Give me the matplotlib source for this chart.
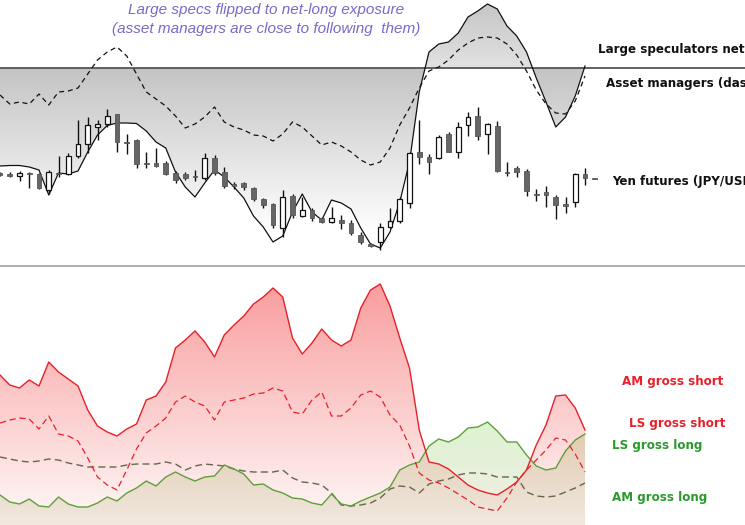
import numpy as np
import matplotlib
matplotlib.use("Agg")
import matplotlib.pyplot as plt
from matplotlib.path import Path
from matplotlib.patches import PathPatch
from matplotlib.lines import Line2D
from matplotlib.colors import LinearSegmentedColormap

# weekly yen futures candles (scaled price index)
yen_open = [91.5, 90.5, 89, 92.2, 91, 75, 92.2, 90.7, 109.3, 120.7, 138.3, 140.7, 150.7, 123.2, 125, 102.2,
            101.7, 101.7, 92.3, 90.7, 88.8, 87.3, 107.3, 93.3, 80.5, 81.7, 76.7, 66, 60.7, 37.3, 69.3, 49.3,
            55, 47.3, 42.7, 45, 41.7, 30, 20.5, 23.3, 38.3, 44, 61.7, 113.3, 108.3, 107.3, 130.7, 113.3,
            140, 149.3, 130.7, 139.3, 93.2, 96.7, 94, 71.2, 73.3, 68.3, 60.5, 63.3, 91, 87.2]
yen_close = [90.5, 89.5, 92.3, 91.2, 77, 93.3, 91.2, 109, 120.7, 140, 141, 149.3, 123.3, 122.2, 100.7, 101.2,
             99.3, 90.7, 85, 86.7, 87.8, 107.3, 91.7, 79.3, 79.5, 78.3, 66, 60, 40, 68.3, 50, 55,
             46.7, 42.7, 46.7, 41.7, 31.7, 22.7, 19.5, 38.3, 44, 66, 111.7, 108.3, 103.3, 128.3, 113.3, 138.3,
             148.3, 129.3, 141, 94, 92.2, 92.7, 74, 70.2, 70, 60, 59.5, 91, 87.3, 86.2]
yen_high = [93, 93.3, 94, 93, 92, 95, 109, 112, 145, 148.3, 145, 156, 151, 130.7, 126, 113,
            116.7, 104, 94, 92.7, 95, 111.7, 110, 98.3, 83.3, 83.3, 78, 67, 62, 75, 71, 68.3,
            57.3, 48.3, 58.3, 50, 45, 32.7, 22, 42, 57.3, 68.3, 113, 145, 110.7, 130, 132.7, 143.3,
            153.3, 157.7, 142, 144, 103.3, 99.3, 96, 76, 79.3, 70, 68.3, 92, 97.3, 87.2]
yen_low = [89, 87.7, 84.3, 77, 76.5, 71, 88, 90, 107, 111.7, 125, 138.3, 113.3, 110.7, 97.3, 97.3,
           98.3, 90, 81.7, 85, 84, 85, 90, 76.7, 76, 75, 64, 57.3, 36.7, 28.3, 47.3, 48.3,
           44, 41.7, 41.7, 36, 30, 20.7, 18, 15, 36.7, 41.7, 57, 100.7, 90.7, 106, 112.7, 106.7,
           129.3, 125, 110.7, 92.7, 89.3, 88.3, 69.3, 64, 58.3, 46, 51.7, 58.3, 80, 86.2]

# net positioning, thousands of contracts
ls_net = [-98, -97.5, -97.5, -99, -102, -127, -105, -106, -103, -84, -67, -57.5, -55, -55, -55.5, -63,
          -74, -80, -104, -119, -129, -115, -102, -109, -119, -130, -148, -159, -174, -168, -144, -126,
          -144, -152, -132, -135, -141, -160, -176, -180, -164, -134, -94, -24, 16, 24, 26, 35, 51, 57,
          64, 59, 42, 32, 16, -10, -34, -59, -49, -28, 2]
am_net = [-27, -36, -34, -36, -26, -37, -24, -23, -20, -6, 8, 16, 21, 12, -6, -24, -31, -38, -48, -60,
          -56, -49, -39, -54, -59, -62, -67, -68, -73, -66, -54, -59, -68, -77, -74, -78, -84, -92, -97,
          -94, -80, -57, -40, -20, -3, 1, 8, 18, 25, 30, 31, 30, 24, 13, -3, -22, -36, -45, -46, -33, -8]

# gross positions, thousands of contracts
am_short = [150, 140, 137, 145, 139, 163, 153, 146, 139, 115, 99, 93, 89, 96, 101, 125, 129, 143, 177, 185,
            194, 183, 168, 190, 200, 209, 221, 228, 237, 228, 187, 171, 182, 196, 185, 179, 185, 217, 235,
            241, 219, 187, 157, 95, 63, 61, 56, 48, 40, 35, 32, 30, 36, 43, 55, 80, 100, 129, 130, 117, 95]
ls_short = [102, 105, 107, 106, 96, 109, 91, 89, 84, 67, 48, 40, 35, 55, 76, 92, 99, 107, 123, 129, 123,
            119, 105, 123, 125, 127, 131, 132, 137, 134, 113, 111, 125, 133, 109, 109, 117, 130, 134, 128,
            110, 100, 79, 52, 45, 42, 37, 31, 25, 18, 16, 14, 27, 43, 55, 65, 75, 87, 85, 71, 53]
ls_long = [30, 23, 21, 26, 19, 18, 28, 21, 18, 18, 22, 28, 24, 32, 37, 44, 39, 48, 53, 48, 44, 48, 49, 60,
           56, 51, 40, 41, 35, 32, 27, 26, 22, 20, 31, 21, 19, 24, 28, 32, 38, 55, 60, 63, 79, 86, 83, 88,
           97, 98, 103, 94, 83, 83, 70, 59, 55, 57, 74, 85, 91]
am_long = [68, 66, 64, 63, 64, 66, 65, 62, 60, 58, 58, 58, 58, 60, 61, 61, 61, 63, 61, 55, 59, 61, 60, 59,
           56, 54, 53, 53, 53, 55, 47, 43, 42, 40, 32, 20, 19, 20, 22, 27, 36, 39, 38, 32, 41, 44, 46, 50,
           52, 52, 51, 48, 48, 48, 33, 29, 28, 29, 33, 37, 42]

W, H = 745, 525
fig = plt.figure(figsize=(W / 100, H / 100), dpi=100)
ax1 = fig.add_axes([0, 1 - 265 / H, 1, 265 / H])
ax2 = fig.add_axes([0, 0, 1, 259 / H])
XMAX = W / 9.75


def gradient_fill(ax, coll, y0, y1, c0, c1, z):
    # imshow gradient clipped to the fill_between polygon
    path = Path.make_compound_path(*coll.get_paths())
    coll.remove()
    patch = PathPatch(path, transform=ax.transData, facecolor="none", edgecolor="none")
    ax.add_patch(patch)
    cmap = LinearSegmentedColormap.from_list("g", [c0, c1])
    grad = np.linspace(0, 1, 256).reshape(-1, 1)
    im = ax.imshow(grad, cmap=cmap, extent=[0, XMAX, y0, y1], origin="lower",
                   aspect="auto", zorder=z, interpolation="bilinear")
    im.set_clip_path(patch)


# ---- top panel: net positioning + yen candles
wk = np.arange(len(ls_net))
ls = np.array(ls_net, float)
c = ax1.fill_between(wk, ls, 0, where=ls <= 0, interpolate=True)
gradient_fill(ax1, c, -165, 0, "#ffffff", "#c4c4c4", 1)
c = ax1.fill_between(wk, ls, 0, where=ls >= 0, interpolate=True)
gradient_fill(ax1, c, 0, 68, "#e2e2e2", "#c4c4c4", 1)
ax1.axhline(0, color="#555555", lw=1.3, zorder=3)
ax1.plot(wk, ls_net, color="#111111", lw=0.9, zorder=4)
ax1.plot(wk, am_net, color="#111111", lw=0.9, ls=(0, (4, 3)), zorder=4)
ax1.set_xlim(0, XMAX)
ax1.set_ylim(-197, 68)
ax1.axis("off")

axc = ax1.twinx()
cw = np.arange(len(yen_open))
o = np.array(yen_open); cl = np.array(yen_close)
up = cl > o
axc.vlines(cw, yen_low, yen_high, color="#111111", lw=1.0, zorder=5)
bot = np.minimum(o, cl)
hgt = np.maximum(np.abs(cl - o), 1.2)
axc.bar(cw[up], hgt[up], bottom=bot[up], width=0.5, color="white", edgecolor="#111111", lw=0.9, zorder=6)
axc.bar(cw[~up], hgt[~up], bottom=bot[~up], width=0.5, color="#666666", edgecolor="#555555", lw=0.6, zorder=6)
axc.set_xlim(0, XMAX)
axc.set_ylim(0, 265)
axc.axis("off")

# ---- bottom panel: gross positions
wk2 = np.arange(len(am_short))
c = ax2.fill_between(wk2, ls_long, 0)
gradient_fill(ax2, c, 0, 110, "#f2eee6", "#dcf3cf", 1)
c = ax2.fill_between(wk2, am_short, 0)
gradient_fill(ax2, c, 0, 245, (0.95, 0.16, 0.16, 0.03), (0.95, 0.16, 0.16, 0.46), 2)
ax2.plot(wk2, am_long, color="#66664f", lw=1.0, ls=(0, (5, 3)), zorder=4)
ax2.plot(wk2, ls_long, color="#5ea03c", lw=1.0, zorder=4)
ax2.plot(wk2, ls_short, color="#e8202a", lw=0.9, ls=(0, (5, 3)), zorder=5)
ax2.plot(wk2, am_short, color="#e8202a", lw=1.0, zorder=5)
ax2.set_xlim(0, XMAX)
ax2.set_ylim(0, 259)
ax2.axis("off")

fig.add_artist(Line2D([0, 1], [1 - 266 / H] * 2, color="#a8a8a8", lw=1.3, transform=fig.transFigure))


def ftext(x, y, s, **kw):
    fig.text(x / W, 1 - y / H, s, va="center", **kw)


purple = "#7b68c8"
ftext(266, 10, "Large specs flipped to net-long exposure", ha="center", color=purple,
      style="italic", family="Liberation Sans", fontsize=11)
ftext(266, 29, "(asset managers are close to following  them)", ha="center", color=purple,
      style="italic", family="Liberation Sans", fontsize=11)

lab = dict(ha="left", fontweight="bold", family="DejaVu Sans", fontsize=8.6)
ftext(598, 50, "Large speculators net positioning (solid)", color="#111111", **lab)
ftext(606, 83, "Asset managers (dashed)", color="#111111", **lab)
ftext(612, 182, "Yen futures (JPY/USD)", color="#111111", **lab)
ftext(622, 382, "AM gross short", color="#e8202a", **lab)
ftext(629, 423, "LS gross short", color="#e8202a", **lab)
ftext(612, 445, "LS gross long", color="#2a9a2a", **lab)
ftext(612, 498, "AM gross long", color="#2a9a2a", **lab)

fig.savefig("out.png", dpi=100)
